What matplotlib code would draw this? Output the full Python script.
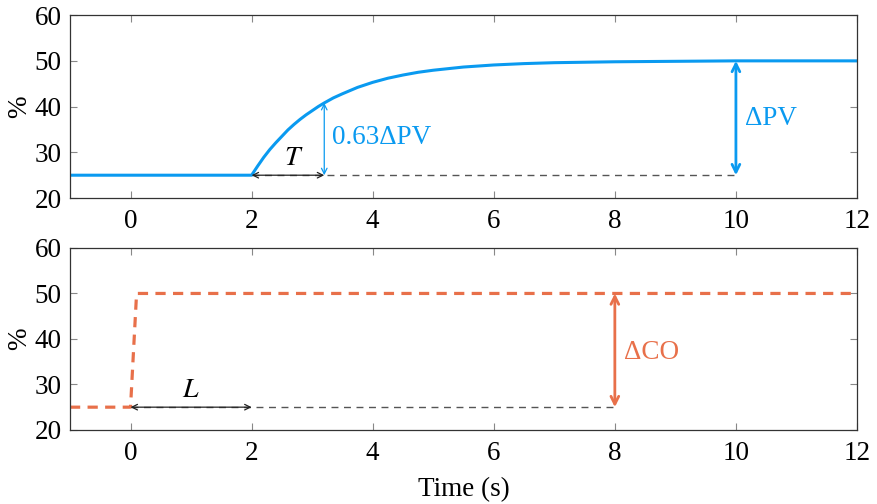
import matplotlib.pyplot as plt

plt.rcParams['font.family'] = ['Liberation Serif', 'DejaVu Serif']
plt.rcParams['mathtext.fontset'] = 'stix'

# process variable response
t_pv = [-1.0, 2.0, 2.1, 2.2, 2.3, 2.4, 2.5, 2.6, 2.7, 2.8, 2.9, 3.0, 3.1, 3.2, 3.35, 3.5,
        3.75, 4.0, 4.25, 4.5, 4.75, 5.0, 5.5, 6.0, 6.5, 7.0, 7.5, 8.0, 9.0, 10.0, 12.0]
pv = [25.0, 25.0, 27.0, 28.9, 30.6, 32.1, 33.5, 34.9, 36.1, 37.2, 38.2, 39.1, 40.0, 40.8, 41.9, 42.8,
      44.2, 45.3, 46.2, 46.9, 47.5, 47.95, 48.65, 49.1, 49.4, 49.6, 49.7, 49.8, 49.9, 50.0, 50.0]

# controller output step
t_co = [-1.0, 0.0, 0.1, 12.0]
co = [25.0, 25.0, 50.0, 50.0]

pv_start, pv_end = 25, 50
t_step_pv, t_tau, t_dpv = 2.0, 3.2, 10.0
pv_63 = 40.8
t_step_co, t_dead, t_dco = 0.0, 2.0, 8.0

blue = '#0A9AF0'
orange = '#E8704A'
gray = '#555555'

fig = plt.figure(figsize=(8.77, 5.04), dpi=100)
ax1 = fig.add_axes([0.0798, 0.607, 0.8974, 0.363])
ax2 = fig.add_axes([0.0798, 0.147, 0.8974, 0.361])

for ax in (ax1, ax2):
    ax.set_xlim(-1, 12)
    ax.set_ylim(20, 60)
    ax.set_xticks([0, 2, 4, 6, 8, 10, 12])
    ax.set_yticks([20, 30, 40, 50, 60])
    ax.tick_params(direction='in', top=True, right=True, length=5, width=0.8,
                   color='#888888', labelsize=19.5, pad=6)
    ax.tick_params(axis='x', pad=8)
    for s in ax.spines.values():
        s.set_color('#333333')
        s.set_linewidth(0.9)
    ax.set_ylabel('%', fontsize=19.5, labelpad=2)

# top panel
ax1.plot([t_step_pv, t_dpv], [pv_start, pv_start], ls=(0, (5, 4)), color=gray, lw=1.0)
ax1.plot(t_pv, pv, color=blue, lw=2.2, solid_joinstyle='round')
ax1.annotate('', xy=(t_tau, pv_start), xytext=(t_step_pv, pv_start),
             arrowprops=dict(arrowstyle='<->', color='#222222', lw=0.9, shrinkA=0, shrinkB=0))
ax1.text(2.7, 26.0, '$T$', fontsize=20, ha='center', va='bottom')
ax1.annotate('', xy=(t_tau, pv_63), xytext=(t_tau, pv_start),
             arrowprops=dict(arrowstyle='<->', color=blue, lw=0.9, shrinkA=0, shrinkB=0))
ax1.text(t_tau + 0.13, 33.3, '0.63ΔPV', color=blue, fontsize=19.5, ha='left', va='center')
ax1.annotate('', xy=(t_dpv, pv_end), xytext=(t_dpv, pv_start),
             arrowprops=dict(arrowstyle='<->', color=blue, lw=2.0, shrinkA=0, shrinkB=0,
                             mutation_scale=14))
ax1.text(t_dpv + 0.15, 37.5, 'ΔPV', color=blue, fontsize=19.5, ha='left', va='center')

# bottom panel
ax2.plot([t_step_co, t_dco], [pv_start, pv_start], ls=(0, (5, 4)), color=gray, lw=1.0)
ax2.plot(t_co, co, color=orange, lw=2.3, ls=(0, (3.2, 2.3)))
ax2.annotate('', xy=(t_dead, pv_start), xytext=(t_step_co, pv_start),
             arrowprops=dict(arrowstyle='<->', color='#222222', lw=0.9, shrinkA=0, shrinkB=0))
ax2.text(1.0, 26.0, '$L$', fontsize=20, ha='center', va='bottom')
ax2.annotate('', xy=(t_dco, pv_end), xytext=(t_dco, pv_start),
             arrowprops=dict(arrowstyle='<->', color=orange, lw=2.0, shrinkA=0, shrinkB=0,
                             mutation_scale=14))
ax2.text(t_dco + 0.15, 37.1, 'ΔCO', color=orange, fontsize=19.5, ha='left', va='center')
ax2.set_xlabel('Time (s)', fontsize=19.5, labelpad=8)

fig.savefig('out.png', dpi=100)
